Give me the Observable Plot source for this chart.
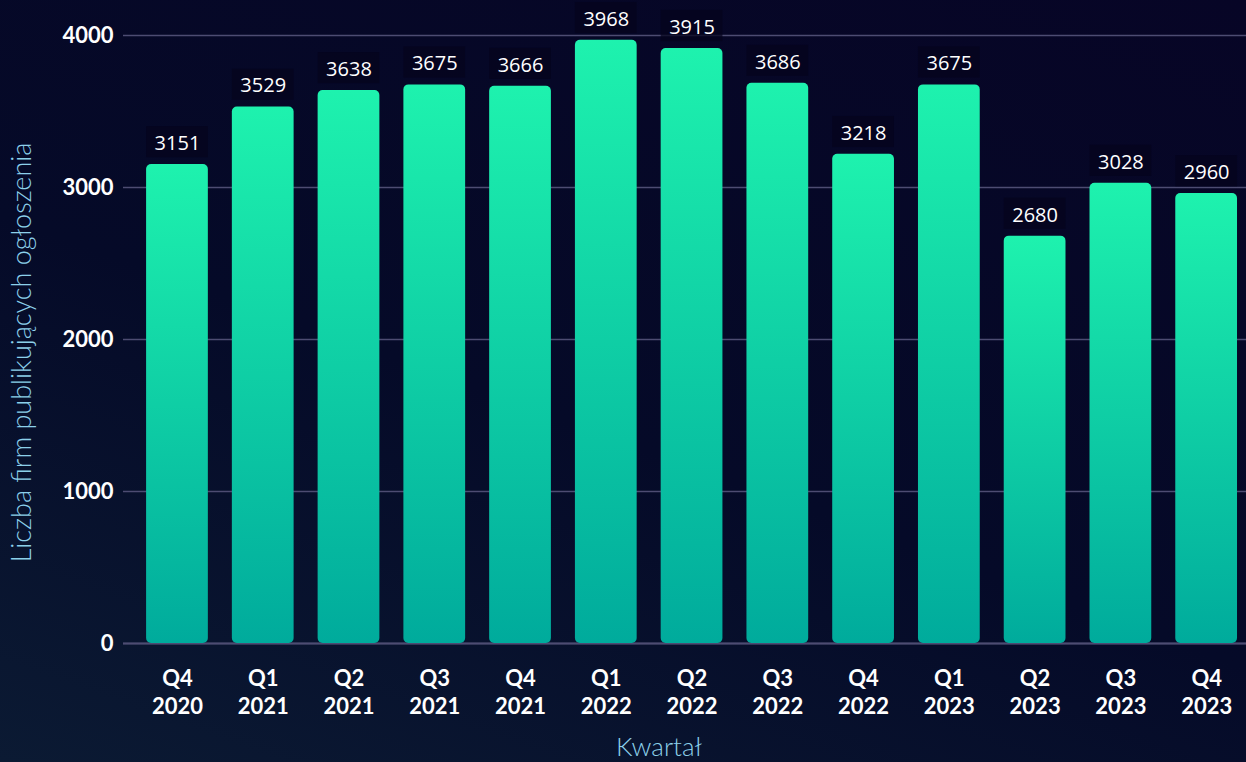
<!DOCTYPE html>
<html>
<head>
<meta charset="utf-8">
<script src="https://cdn.jsdelivr.net/npm/d3@7"></script>
<script src="https://cdn.jsdelivr.net/npm/@observablehq/plot@0.6"></script>
<style>
  html, body { margin: 0; padding: 0; }
  body {
    width: 1246px; height: 762px; overflow: hidden;
    background: linear-gradient(20deg, #0b1a33 0%, #050a28 45%, #070526 100%);
  }
  #chart svg { display: block; }
</style>
</head>
<body>
<div id="chart"></div>
<script>
const quarters = ["Q4","Q1","Q2","Q3","Q4","Q1","Q2","Q3","Q4","Q1","Q2","Q3","Q4"];
const years = ["2020","2021","2021","2021","2021","2022","2022","2022","2022","2023","2023","2023","2023"];
const values = [3151, 3529, 3638, 3675, 3666, 3968, 3915, 3686, 3218, 3675, 2680, 3028, 2960];
const yTicks = [0, 1000, 2000, 3000, 4000];
const xTitle = "Kwartał";
const yTitle = "Liczba firm publikujących ogłoszenia";

const data = values.map((v, i) => ({ key: quarters[i] + "\n" + years[i], v }));

const plot = Plot.plot({
  width: 1246,
  height: 762,
  marginTop: 35,
  marginBottom: 119,
  marginLeft: 123,
  marginRight: 0,
  style: { background: "transparent", overflow: "visible" },
  x: { domain: data.map(d => d.key), paddingInner: 0.28, paddingOuter: 0.187, align: 0.72, round: false },
  y: { domain: [0, 4000] },
  marks: [
    Plot.gridY(yTicks, { stroke: "#4d4c72", strokeOpacity: 1, strokeWidth: 1.5 }),
    Plot.ruleY([0], { stroke: "#4d4c72", strokeWidth: 2 }),
    Plot.barY(data, { x: "key", y: "v", fill: "url(#barGrad)", rx: 5 }),
    Plot.rectY(data, { x: "key", y1: d => d.v + 45, y2: d => d.v + 250, fill: "#05041d", fillOpacity: 0.75 }),
    Plot.text(data, { x: "key", y: "v", text: d => String(d.v), dy: -21, fill: "#ffffff",
      fontSize: 20, fontFamily: "Open Sans" }),
    Plot.axisY(yTicks, { tickSize: 0, tickPadding: 10, fontSize: 22, fontWeight: "bold",
      fontFamily: "Lato", fill: "#ffffff", label: null, tickFormat: d3.format("d") }),
    Plot.axisX({ tickSize: 0, tickPadding: 22, fontSize: 22, fontWeight: "bold",
      fontFamily: "Lato", fill: "#ffffff", lineHeight: 1.3, label: null }),
    Plot.text([xTitle], { frameAnchor: "bottom", dy: 112, dx: -26, fill: "#8cd0ea",
      fontSize: 26, fontWeight: 300, fontFamily: "Lato" }),
    Plot.text([yTitle], { frameAnchor: "left", textAnchor: "middle", dx: -101, dy: 13, rotate: -90, fill: "#8cd0ea",
      fontSize: 27, fontWeight: 300, fontFamily: "Lato" })
  ]
});

const ns = "http://www.w3.org/2000/svg";
const defs = document.createElementNS(ns, "defs");
defs.innerHTML = `<linearGradient id="barGrad" x1="0" y1="0" x2="0" y2="1" gradientUnits="objectBoundingBox">
  <stop offset="0%" stop-color="#1ef2ae"/>
  <stop offset="100%" stop-color="#00ab9c"/>
</linearGradient>`;
plot.insertBefore(defs, plot.firstChild);
document.getElementById("chart").appendChild(plot);
</script>
</body>
</html>
